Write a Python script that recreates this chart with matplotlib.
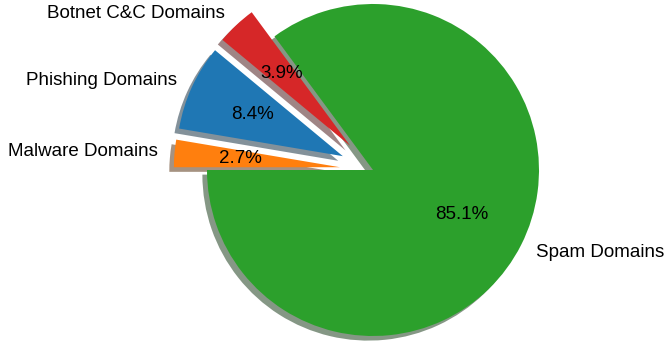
import matplotlib
matplotlib.use("Agg")
import matplotlib.pyplot as plt

plt.rcParams['font.family'] = ['Liberation Sans', 'DejaVu Sans']

labels = ['Malware Domains', 'Phishing Domains', 'Botnet C&C Domains', 'Spam Domains']
shares = [2.66, 8.36, 3.87, 85.11]
colors = ['#ff7f0e', '#1f77b4', '#d62728', '#2ca02c']
explode = [0.2, 0.2, 0.2, 0.0]

fig = plt.figure(figsize=(6.65, 3.44), dpi=100)
ax = fig.add_axes([0, 0, 1, 1])
ax.pie(shares, labels=labels, colors=colors, explode=explode,
       autopct='%1.1f%%', startangle=180, counterclock=False,
       shadow={'edgecolor': 'none'},
       textprops={'fontsize': 13.5})

# place the pie with equal scaling on both axes
scale = 166.0
cx, cy = 373.0, 174.0
ax.set_xlim(-cx / scale, (665 - cx) / scale)
ax.set_ylim(-cy / scale, (344 - cy) / scale)
ax.set_aspect('auto')
ax.axis('off')
fig.savefig('out.png', dpi=100)
